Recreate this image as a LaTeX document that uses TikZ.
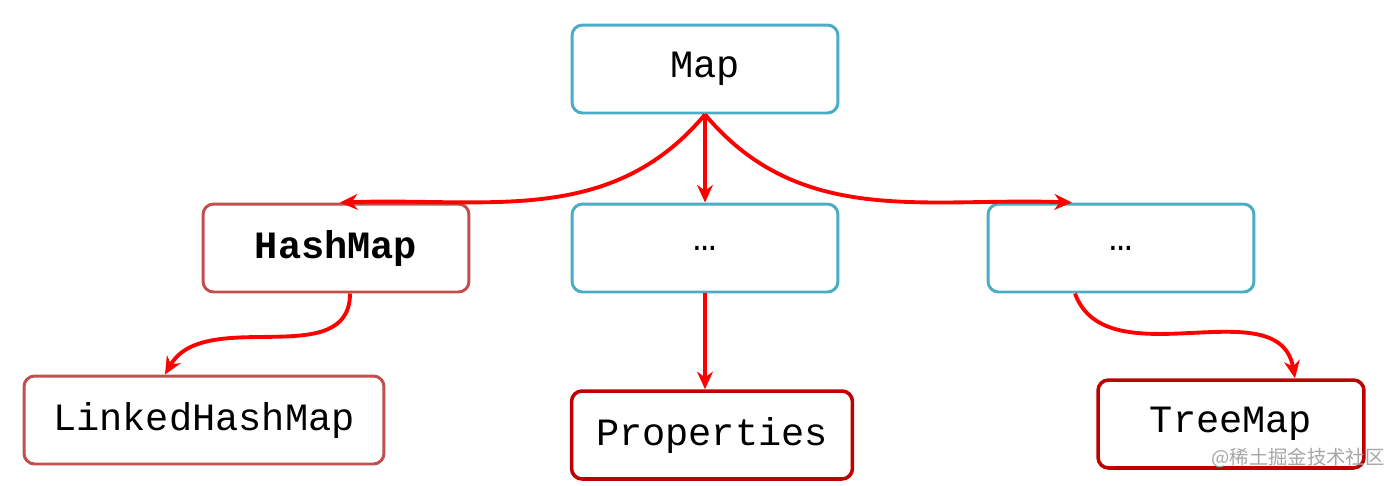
\documentclass[tikz,border=0pt]{standalone}
\usepackage{fontspec}
\setmonofont{Liberation Mono}
\newfontfamily\cjkfont{Noto Sans CJK SC}
\usetikzlibrary{arrows.meta}
\definecolor{boxblue}{HTML}{4BACC6}
\definecolor{boxbrown}{HTML}{C0504D}
\definecolor{boxred}{HTML}{C00000}
\tikzset{
	box/.style={draw=boxblue,line width=1.7pt,rounded corners=6pt,minimum width=5.32cm,minimum height=1.76cm,font=\ttfamily\fontsize{22}{26}\selectfont},
	brownbox/.style={box,draw=boxbrown},
	redbox/.style={box,draw=boxred,line width=2pt},
	link/.style={-{Stealth[length=10pt,width=9pt]},red,line width=2.2pt}
}
\begin{document}
\begin{tikzpicture}[x=0.02cm,y=-0.02cm]
	\useasboundingbox (0,0) rectangle (1394,485);
	\node[box] (map) at (705,69) {Map};
	\node[brownbox] (hash) at (336,248) {\textbf{HashMap}};
	\node[box] (mid) at (705,248) {…};
	\node[box] (right) at (1121,248) {…};
	\node[brownbox,minimum width=7.2cm] (linked) at (204,420) {LinkedHashMap};
	\node[redbox,minimum width=5.62cm] (prop) at (712,435) {Properties};
	\node[redbox] (tree) at (1231,424) {TreeMap};
	\node[text=gray!70,font=\cjkfont\fontsize{11}{13}\selectfont] (mark) at (1298,458) {@稀土掘金技术社区};

	\draw[link] (map.south) to[out=230,in=2] (hash.north-|340,0);
	\draw[link] (map.south) -- (mid.north);
	\draw[link] (map.south) to[out=-50,in=178] (right.north-|1072,0);
	\draw[link] (mid.south) -- (prop.north-|mid.south);
	\draw[link] (hash.south-|350,0) to[out=-90,in=60] (linked.north-|165,0);
	\draw[link] (right.south-|1075,0) to[out=-70,in=100] (tree.north-|1295,0);
\end{tikzpicture}
\end{document}
